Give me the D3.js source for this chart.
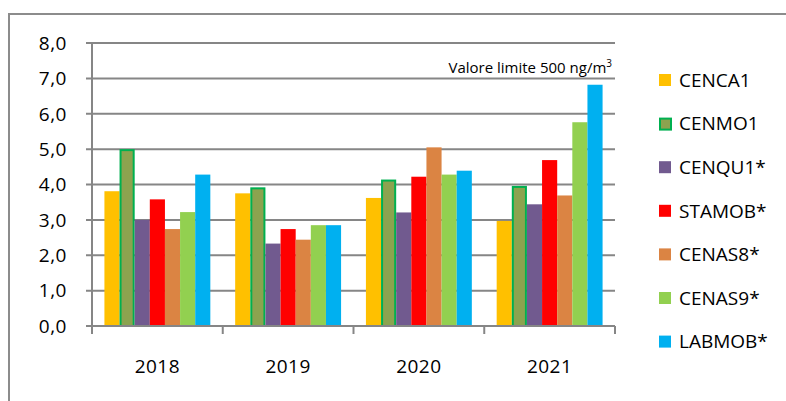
<!DOCTYPE html>
<html>
<head>
<meta charset="utf-8">
<script src="https://cdn.jsdelivr.net/npm/d3@7"></script>
<style>
  body { margin: 0; background: #fff; }
  svg text { font-family: "Open Sans", Lato, sans-serif; fill: #000; }
</style>
</head>
<body>
<div id="chart"></div>
<script>
// data
const years = ["2018", "2019", "2020", "2021"];
const stations = ["CENCA1", "CENMO1", "CENQU1*", "STAMOB*", "CENAS8*", "CENAS9*", "LABMOB*"];
const colors = ["#FFC000", "#8CA34F", "#715A8F", "#FF0000", "#DB8443", "#92D050", "#00B0F0"];
const CENCA1 = [3.81, 3.75, 3.62, 2.97];
const CENMO1 = [5.0, 3.92, 4.14, 3.96];
const CENQU1 = [3.0, 2.33, 3.21, 3.44];
const STAMOB = [3.58, 2.74, 4.22, 4.69];
const CENAS8 = [2.74, 2.44, 5.05, 3.69];
const CENAS9 = [3.22, 2.85, 4.28, 5.76];
const LABMOB = [4.28, 2.85, 4.39, 6.82];
const yTicks = [0, 1, 2, 3, 4, 5, 6, 7, 8];

const series = [CENCA1, CENMO1, CENQU1, STAMOB, CENAS8, CENAS9, LABMOB];

const W = 786, H = 401;
const margin = {top: 43, right: 171, bottom: 75, left: 92};
const width = W - margin.left - margin.right,
      height = H - margin.top - margin.bottom;

const root = d3.select("#chart").append("svg")
    .attr("width", W)
    .attr("height", H);

// outer frame
root.append("rect")
    .attr("x", 9).attr("y", 14)
    .attr("width", W).attr("height", H)
    .attr("fill", "none")
    .attr("stroke", "#8c8c8c")
    .attr("stroke-width", 2);

const svg = root.append("g")
    .attr("transform", `translate(${margin.left}, ${margin.top})`);

const x0 = d3.scaleBand().domain(years).range([0, width]);
const bw = x0.bandwidth();
const x1 = d3.scaleBand().domain(stations).range([bw * 0.095, bw * 0.905]);

const y = d3.scaleLinear().domain([0, 8]).range([height, 0]);

// grid lines
svg.append("g")
    .selectAll("line")
    .data(yTicks)
    .join("line")
    .attr("x1", -6).attr("x2", width)
    .attr("y1", d => y(d)).attr("y2", d => y(d))
    .attr("stroke", "#868686")
    .attr("stroke-width", 2);

// y axis line
svg.append("line")
    .attr("x1", 0).attr("x2", 0)
    .attr("y1", 0).attr("y2", height)
    .attr("stroke", "#868686")
    .attr("stroke-width", 2);

// y labels
svg.append("g")
    .selectAll("text")
    .data(yTicks)
    .join("text")
    .attr("x", -25)
    .attr("y", d => y(d))
    .attr("dy", "0.36em")
    .attr("text-anchor", "end")
    .style("font-size", "19px")
    .style("letter-spacing", "0.5px")
    .text(d => d3.format(".1f")(d).replace(".", ","));

// bars
const groups = svg.append("g")
    .selectAll("g")
    .data(years)
    .join("g")
    .attr("transform", d => `translate(${x0(d)}, 0)`);

groups.selectAll("rect")
    .data((yr, i) => stations.map((s, k) => ({s, k, v: series[k][i]})))
    .join("rect")
    .attr("x", d => x1(d.s) + (d.k === 1 ? 1 : 0))
    .attr("y", d => y(d.v) + (d.k === 1 ? 1 : 0))
    .attr("width", d => x1.bandwidth() - (d.k === 1 ? 2 : 0))
    .attr("height", d => height - y(d.v) - (d.k === 1 ? 1 : 0))
    .attr("fill", d => colors[d.k])
    .attr("stroke", d => d.k === 1 ? "#00B050" : "none")
    .attr("stroke-width", 2);

// x axis
svg.append("line")
    .attr("x1", 0).attr("x2", width)
    .attr("y1", height).attr("y2", height)
    .attr("stroke", "#868686")
    .attr("stroke-width", 2);

svg.append("g")
    .selectAll("line")
    .data(years.concat(["end"]))
    .join("line")
    .attr("x1", (d, i) => i * bw).attr("x2", (d, i) => i * bw)
    .attr("y1", height).attr("y2", height + 8)
    .attr("stroke", "#868686")
    .attr("stroke-width", 2);

svg.append("g")
    .selectAll("text")
    .data(years)
    .join("text")
    .attr("x", d => x0(d) + bw / 2)
    .attr("y", height + 47)
    .attr("text-anchor", "middle")
    .style("font-size", "19px")
    .style("letter-spacing", "0.5px")
    .text(d => d);

// annotation
svg.append("text")
    .attr("x", width - 3)
    .attr("y", y(7) - 5)
    .attr("text-anchor", "end")
    .style("font-size", "15px")
    .html("Valore limite 500 ng/m<tspan dy='-6' style='font-size:10px'>3</tspan>");

// legend
const legend = root.append("g")
    .attr("transform", "translate(659, 80)");

const item = legend.selectAll("g")
    .data(stations)
    .join("g")
    .attr("transform", (d, i) => `translate(0, ${i * 43.6})`);

item.append("rect")
    .attr("x", (d, i) => i === 1 ? 1 : 0)
    .attr("y", (d, i) => i === 1 ? -5 : -6)
    .attr("width", (d, i) => i === 1 ? 11 : 12)
    .attr("height", (d, i) => i === 1 ? 11 : 12)
    .attr("fill", (d, i) => colors[i])
    .attr("stroke", (d, i) => i === 1 ? "#00B050" : "none")
    .attr("stroke-width", 2);

item.append("text")
    .attr("x", 20)
    .attr("y", 0)
    .attr("dy", "0.36em")
    .style("font-size", "19px")
    .text(d => d);
</script>
</body>
</html>
